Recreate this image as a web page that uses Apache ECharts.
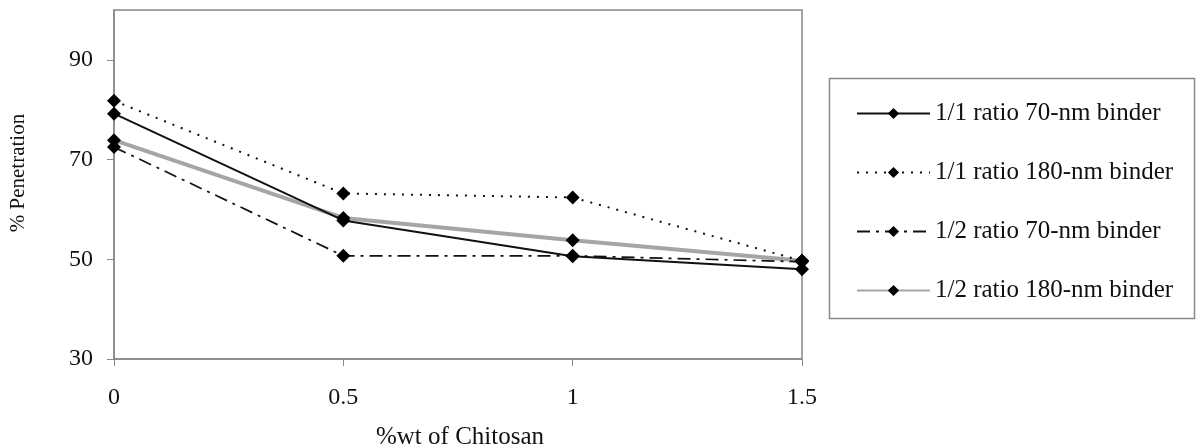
<!DOCTYPE html>
<html>
<head>
<meta charset="utf-8">
<script src="https://cdn.jsdelivr.net/npm/echarts@6/dist/echarts.min.js"></script>
<style>
html,body{margin:0;padding:0;background:#fff;}
#chart{width:1203px;height:448px;}
</style>
</head>
<body>
<div id="chart"></div>
<script>
const xValues = [0, 0.5, 1, 1.5];
const seriesNames = ['1/1 ratio 70-nm binder', '1/1 ratio 180-nm binder', '1/2 ratio 70-nm binder', '1/2 ratio 180-nm binder'];
const s11_70 = [79.2, 57.8, 50.6, 48.0];
const s11_180 = [81.8, 63.2, 62.4, 49.7];
const s12_70 = [72.5, 50.7, 50.7, 49.5];
const s12_180 = [73.9, 58.3, 53.8, 49.7];
const yTickValues = [30, 50, 70, 90];
const xTickValues = [0, 0.5, 1, 1.5];
const xTitle = '%wt of Chitosan';
const yTitle = '% Penetration';

const FONT = '"Liberation Serif", "DejaVu Serif", serif';
const chart = echarts.init(document.getElementById('chart'));

function pts(arr) { return xValues.map((x, i) => [x, arr[i]]); }

const styles = [
  { color: '#111', width: 2, type: 'solid' },
  { color: '#111', width: 2, type: [2, 7] },
  { color: '#111', width: 1.7, type: [13, 6, 3, 6] },
  { color: '#a5a5a5', width: 4, type: 'solid' }
];
const datas = [s11_70, s11_180, s12_70, s12_180];

const series = datas.map((d, i) => ({
  name: seriesNames[i],
  type: 'line',
  data: pts(d),
  symbol: 'diamond',
  symbolSize: 14,
  z: i === 3 ? 1 : 3,
  itemStyle: { color: '#000', borderWidth: 0 },
  lineStyle: { color: styles[i].color, width: styles[i].width, type: styles[i].type },
  emphasis: { disabled: true },
  animation: false
}));

chart.setOption({
  animation: false,
  backgroundColor: '#fff',
  grid: { left: 114, top: 10, right: 401, bottom: 89, show: true, borderColor: '#888', borderWidth: 1.5 },
  xAxis: {
    type: 'value', min: 0, max: 1.5, interval: 0.5,
    axisLine: { show: true, lineStyle: { color: '#888', width: 1.5 } },
    axisTick: { show: true, length: 7, lineStyle: { color: '#888' }, customValues: xTickValues },
    axisLabel: { customValues: xTickValues, color: '#111', fontFamily: FONT, fontSize: 24, margin: 27 },
    splitLine: { show: false }
  },
  yAxis: {
    type: 'value', min: 30, max: 100,
    axisLine: { show: true, lineStyle: { color: '#888', width: 1.5 } },
    axisTick: { show: true, length: 7, lineStyle: { color: '#888' }, customValues: yTickValues },
    axisLabel: { customValues: yTickValues, color: '#111', fontFamily: FONT, fontSize: 24, margin: 21 },
    splitLine: { show: false }
  },
  legend: {
    orient: 'vertical',
    left: 851, top: 96,
    itemWidth: 73, itemHeight: 14, itemGap: 34,
    textStyle: { fontFamily: FONT, fontSize: 25, color: '#111' },
    data: seriesNames,
    selectedMode: false
  },
  graphic: [
    { type: 'rect', shape: { x: 829.5, y: 78.5, width: 365, height: 240 }, style: { fill: 'none', stroke: '#888', lineWidth: 1.5 }, silent: true },
    { type: 'text', x: 460, y: 437, style: { text: xTitle, font: '25px ' + FONT, fill: '#111', align: 'center', verticalAlign: 'middle' } },
    { type: 'text', x: 18, y: 173, rotation: Math.PI / 2, style: { text: yTitle, font: '21px ' + FONT, fill: '#111', align: 'center', verticalAlign: 'middle' } }
  ],
  series: series
});
</script>
</body>
</html>
